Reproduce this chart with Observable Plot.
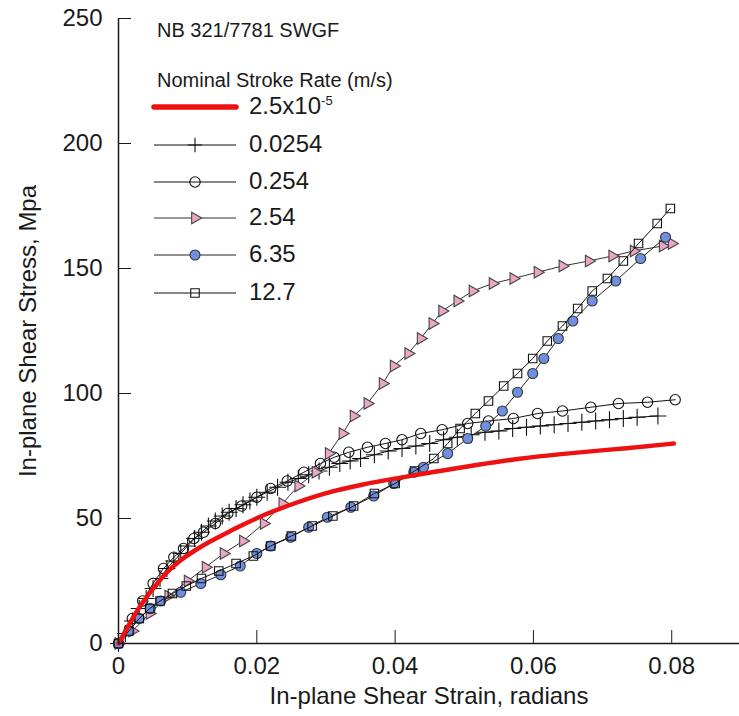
<!DOCTYPE html>
<html><head><meta charset="utf-8">
<script src="https://cdn.jsdelivr.net/npm/d3@7"></script>
<script src="https://cdn.jsdelivr.net/npm/@observablehq/plot@0.6"></script>
<style>
body{margin:0;background:#fff;}
#wrap{position:relative;width:739px;height:716px;font-family:Arial,"Liberation Sans",sans-serif;color:#1a1a1a;}
.lg{position:absolute;white-space:nowrap;line-height:1;}
</style></head><body><div id="wrap"></div>
<script>
// ---- data ----
const chartTitle = "NB 321/7781 SWGF";
const legendTitle = "Nominal Stroke Rate (m/s)";
const seriesNames = ["2.5x10", "0.0254", "0.254", "2.54", "6.35", "12.7"];
const xTicks = [0, 0.02, 0.04, 0.06, 0.08];
const yTicks = [0, 50, 100, 150, 200, 250];

const rate25e5 = [[0,0],[0.001,5],[0.002,10],[0.0036,17],[0.005,22],[0.0071,29],[0.009,33.5],[0.0109,37],[0.013,40.5],[0.0158,44.5],[0.018,47.5],[0.021,51.5],[0.0253,56],[0.0302,60.5],[0.035,63.5],[0.04,66],[0.046,68.8],[0.052,71.5],[0.058,74],[0.064,75.8],[0.07,77.3],[0.075,78.5],[0.0803,80]];

const rate0254 = [[0,0],[0.001,4],[0.002,9],[0.003,14],[0.004,18],[0.005,22],[0.006,26],[0.007,30],[0.008,33],[0.009,36],[0.010,39],[0.011,42],[0.012,44.5],[0.013,47],[0.014,49],[0.015,51],[0.016,52.5],[0.017,54],[0.018,55.5],[0.019,57],[0.020,58.5],[0.0215,60.5],[0.023,62.5],[0.0245,64.5],[0.026,66],[0.0275,67.5],[0.029,69],[0.0305,70.5],[0.032,72],[0.0335,73],[0.035,74],[0.037,75.5],[0.039,77],[0.041,78],[0.043,79],[0.045,80],[0.047,81.5],[0.049,82.5],[0.051,83.5],[0.053,84.5],[0.055,85],[0.057,86],[0.059,86.5],[0.061,87],[0.063,87.5],[0.065,88],[0.067,88.5],[0.069,89],[0.071,89.5],[0.073,90],[0.075,90.5],[0.078,91]];

const rate254 = [[0,0],[0.002,10],[0.0035,17],[0.005,24],[0.0065,30],[0.008,34.5],[0.0094,38],[0.0109,42],[0.0123,44.5],[0.014,48],[0.0158,52],[0.0178,55],[0.02,58.5],[0.022,62],[0.0244,65],[0.0268,68.5],[0.0292,72],[0.0312,74.5],[0.0333,76.5],[0.036,78.5],[0.0386,80],[0.041,81.5],[0.0437,84],[0.0468,85.5],[0.0505,88],[0.0535,89],[0.0571,90],[0.0606,92],[0.0642,93],[0.0683,94.5],[0.0723,96],[0.0765,96.5],[0.0805,97.5]];

const rate254b = [[0,0],[0.002,5],[0.0045,12],[0.0072,19],[0.01,25],[0.0126,30.5],[0.0152,36],[0.018,41],[0.021,48],[0.0237,56],[0.026,63],[0.0285,68.5],[0.0304,76],[0.0324,84],[0.034,91],[0.036,96],[0.0382,104],[0.0398,111],[0.0419,116],[0.0437,122],[0.0454,128],[0.0468,133],[0.049,137],[0.0512,141],[0.0541,144],[0.0571,146],[0.0606,148.5],[0.0642,151],[0.068,153],[0.0714,155],[0.0745,157],[0.0787,159],[0.08,160]];

const rate635 = [[0,0],[0.0015,5],[0.003,10],[0.0046,14],[0.0061,17],[0.009,20.5],[0.0119,24],[0.0148,27.5],[0.0176,31],[0.02,36],[0.022,39],[0.0249,42.5],[0.0275,46.5],[0.0302,50.5],[0.0336,54.5],[0.0369,59],[0.0398,64],[0.0427,68.5],[0.0441,70.5],[0.0476,76],[0.0505,82],[0.0531,87],[0.0555,93],[0.0577,100.5],[0.0599,108],[0.0615,114],[0.0636,122],[0.0657,129],[0.0685,137],[0.0719,145],[0.0755,154],[0.0791,162.5]];

const rate127 = [[0,0],[0.0015,5],[0.003,10],[0.0045,14],[0.006,17],[0.0078,20],[0.0098,23],[0.012,26],[0.0145,29],[0.017,32],[0.0195,35],[0.022,39],[0.025,43],[0.028,47],[0.031,51],[0.034,55],[0.037,60],[0.040,64],[0.0428,69],[0.0456,74],[0.0476,80],[0.0494,86],[0.0516,92],[0.0535,97],[0.0557,103],[0.0577,108],[0.0599,114],[0.062,121],[0.0642,127],[0.0664,134],[0.0685,141],[0.0707,146],[0.073,153],[0.0752,160],[0.0779,168],[0.0798,174]];

// ---- styles ----
const styles = [
  {data: rate25e5, line: "#ee1111", lw: 4.5, symbol: null},
  {data: rate0254, line: "#111", lw: 1, symbol: "plus", fill: "none", stroke: "#111", r: 5.5},
  {data: rate254, line: "#111", lw: 1, symbol: "circle", fill: "none", stroke: "#111", r: 5.2},
  {data: rate254b, line: "#333", lw: 1, symbol: "triangle", fill: "#eaa6c4", stroke: "#444", r: 4.3, rotate: 90},
  {data: rate635, line: "#222", lw: 1, symbol: "circle", fill: "#6f8fe0", stroke: "#333", r: 5},
  {data: rate127, line: "#111", lw: 1, symbol: "square", fill: "none", stroke: "#111", r: 4.8}
];

const font = 'Arial, "Liberation Sans", sans-serif';
const marks = [];
[1,2,3,4,5].forEach(i => {
  const s = styles[i];
  marks.push(Plot.line(s.data, {x: d => d[0], y: d => d[1], stroke: s.line, strokeWidth: s.lw}));
  marks.push(Plot.dot(s.data, {x: d => d[0], y: d => d[1], symbol: s.symbol, r: s.r, fill: s.fill, stroke: s.stroke, strokeWidth: 1.1, rotate: s.rotate || 0}));
});
marks.push(Plot.line(styles[0].data, {x: d => d[0], y: d => d[1], stroke: styles[0].line, strokeWidth: styles[0].lw, curve: "basis"}));

const chart = Plot.plot({
  width: 739, height: 716,
  marginLeft: 118, marginTop: 18, marginBottom: 73, marginRight: 0,
  style: {fontFamily: font, fontSize: "24px", color: "#1a1a1a", background: "#fff"},
  x: {domain: [0, 0.0898]},
  y: {domain: [0, 250]},
  marks: [
    ...marks,
    Plot.ruleX([0], {stroke: "#1a1a1a", strokeWidth: 1.5}),
    Plot.ruleY([0], {stroke: "#1a1a1a", strokeWidth: 1.5}),
    Plot.axisX({ticks: xTicks, tickSize: -13, tickPadding: 26, tickFormat: d => String(d), label: "In-plane Shear Strain, radians", labelAnchor: "center", labelArrow: "none", labelOffset: 60, fontSize: 24}),
    Plot.axisY({ticks: yTicks, tickSize: -13, tickPadding: 29, label: "In-plane Shear Stress, Mpa", labelAnchor: "center", labelArrow: "none", labelOffset: 100, fontSize: 24})
  ]
});
const wrap = document.getElementById("wrap");
wrap.appendChild(chart);

// ---- legend (HTML overlay) ----
function addText(txt, left, top, size, html) {
  const d = document.createElement("div");
  d.className = "lg";
  d.style.left = left + "px"; d.style.top = top + "px"; d.style.fontSize = size + "px";
  if (html) d.innerHTML = txt; else d.textContent = txt;
  wrap.appendChild(d);
}
addText(chartTitle, 157, 20, 20);
addText(legendTitle, 157, 70, 20);
const rowY = [107, 145, 182, 218, 255, 293];
const ns = "http://www.w3.org/2000/svg";
styles.forEach((s, i) => {
  const svg = document.createElementNS(ns, "svg");
  svg.setAttribute("width", 90); svg.setAttribute("height", 20);
  svg.style.position = "absolute"; svg.style.left = "150px"; svg.style.top = (rowY[i] - 10) + "px";
  const ln = document.createElementNS(ns, "line");
  ln.setAttribute("x1", 4); ln.setAttribute("x2", 86); ln.setAttribute("y1", 10); ln.setAttribute("y2", 10);
  ln.setAttribute("stroke", s.line); ln.setAttribute("stroke-width", i === 0 ? 5.5 : 1);
  if (i === 0) ln.setAttribute("stroke-linecap", "round");
  svg.appendChild(ln);
  if (s.symbol) {
    const p = document.createElementNS(ns, "path");
    const area = s.symbol === "plus" ? 70 : Math.PI * s.r * s.r;
    const sym = {plus: d3.symbolPlus, circle: d3.symbolCircle, triangle: d3.symbolTriangle, square: d3.symbolSquare}[s.symbol];
    p.setAttribute("d", d3.symbol(sym, area)());
    p.setAttribute("transform", `translate(45,10) rotate(${s.rotate || 0})`);
    p.setAttribute("fill", s.fill); p.setAttribute("stroke", s.stroke); p.setAttribute("stroke-width", 1.1);
    svg.appendChild(p);
  }
  wrap.appendChild(svg);
  const label = i === 0 ? seriesNames[0] + '<sup style="font-size:13px;vertical-align:9px">-5</sup>' : seriesNames[i];
  addText(label, 249, rowY[i] - 13, 24, true);
});
</script></body></html>
